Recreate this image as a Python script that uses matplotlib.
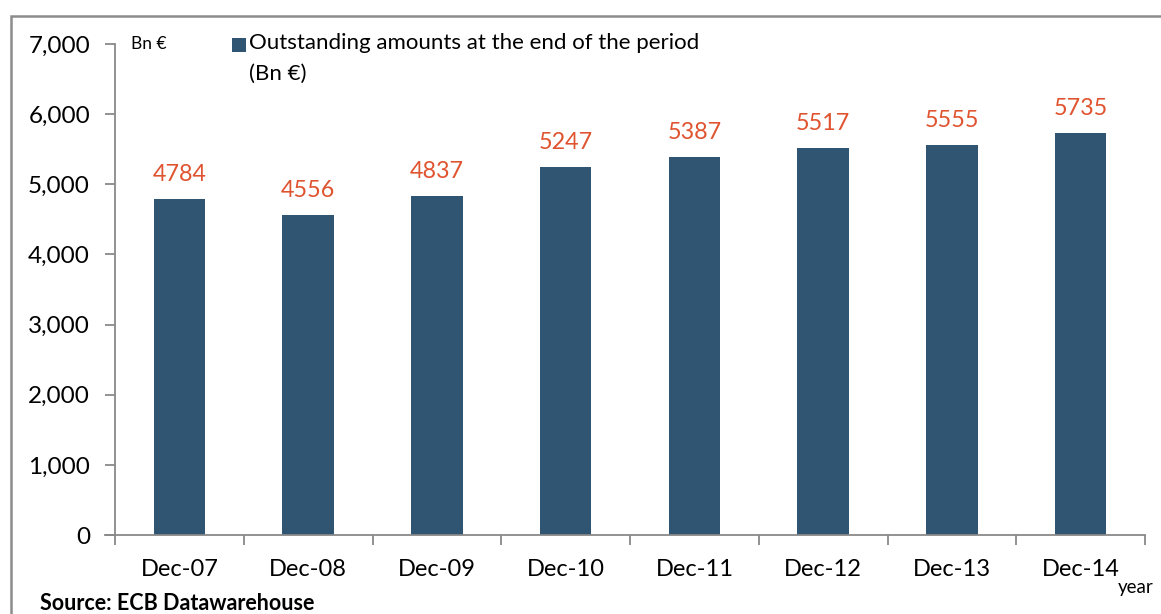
import matplotlib
matplotlib.use("Agg")
import matplotlib.pyplot as plt
from matplotlib.patches import Rectangle
import numpy as np

# ============================================================
# DATI
# ============================================================

periods = ["Dec-07", "Dec-08", "Dec-09", "Dec-10",
           "Dec-11", "Dec-12", "Dec-13", "Dec-14"]
amounts = [4784, 4556, 4837, 5247, 5387, 5517, 5555, 5735]

y_ticks = [0, 1000, 2000, 3000, 4000, 5000, 6000, 7000]

BAR_COLOR = "#2F5572"
LABEL_COLOR = "#E0532F"
AXIS_COLOR = "#898989"

plt.rcParams["font.family"] = ["Lato", "DejaVu Sans"]

# ============================================================
# FIGURA
# ============================================================

fig = plt.figure(figsize=(11.61, 6.14), dpi=100)
ax = fig.add_axes([115 / 1161, 1 - 535 / 614, 1030 / 1161, 491 / 614])

x = np.arange(len(periods))
bars = ax.bar(x, amounts, width=0.4, color=BAR_COLOR, zorder=2)

for xi, value in zip(x, amounts):
    ax.annotate(
        f"{value}",
        (xi, value),
        xytext=(0, 13),
        textcoords="offset points",
        ha="center",
        va="baseline",
        fontsize=16.8,
        color=LABEL_COLOR,
    )

ax.set_xlim(-0.5, len(periods) - 0.5)
ax.set_ylim(0, 7000)

ax.set_yticks(y_ticks)
ax.set_yticklabels([f"{v:,}" for v in y_ticks], fontsize=17.5)
ax.tick_params(axis="y", length=7, width=1.3, color=AXIS_COLOR, pad=11)

ax.set_xticks(x)
ax.set_xticklabels(periods, fontsize=17)
ax.tick_params(axis="x", which="major", length=0, pad=17)
ax.set_xticks(np.arange(-0.5, len(periods)), minor=True)
ax.tick_params(axis="x", which="minor", length=7, width=1.3, color=AXIS_COLOR)

for side in ["top", "right"]:
    ax.spines[side].set_visible(False)
for side in ["left", "bottom"]:
    ax.spines[side].set_color(AXIS_COLOR)
    ax.spines[side].set_linewidth(1.3)

# linea dell'asse x che prosegue fino al tick dello 0
ax.plot([-10 / 1030, 0], [0, 0], transform=ax.get_yaxis_transform(),
        color=AXIS_COLOR, lw=1.3, clip_on=False)

# ============================================================
# TESTI E LEGENDA
# ============================================================

fig.text(131 / 1161, 1 - 44 / 614, "Bn €", fontsize=12.5, va="center")

fig.add_artist(Rectangle((232 / 1161, 1 - 52 / 614), 14 / 1161, 14 / 614,
                         facecolor=BAR_COLOR, edgecolor="none"))
fig.text(249 / 1161, 1 - 33 / 614,
         "Outstanding amounts at the end of the period\n(Bn €)",
         fontsize=16, va="top", ha="left", linespacing=1.65)

fig.text(1118 / 1161, 1 - 588 / 614, "year", fontsize=13.5, va="center")
fig.text(40 / 1161, 1 - 603 / 614, "Source: ECB Datawarehouse",
         fontsize=15.5, fontweight="bold", va="center")

# cornice grigia
fig.add_artist(Rectangle((11 / 1161, -0.5), 2, 0.5 + 1 - 16 / 614,
                         fill=False, edgecolor="#8C8C8C", lw=1.8,
                         transform=fig.transFigure))

fig.savefig("out.png", dpi=100)
